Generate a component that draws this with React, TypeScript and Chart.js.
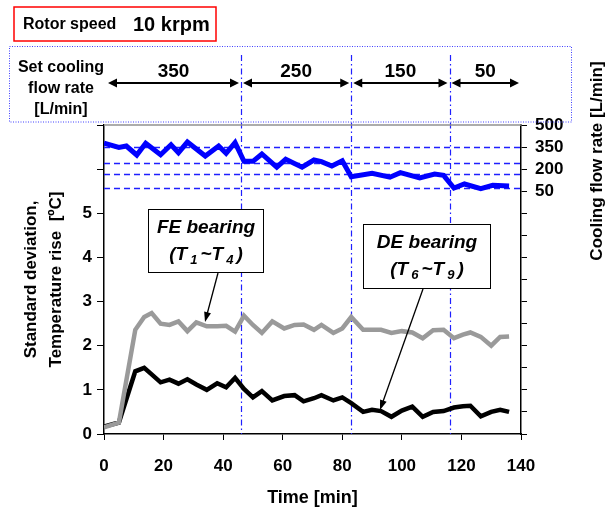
import React, { useEffect, useRef } from 'react';
import { Chart, registerables } from 'chart.js';

Chart.register(...registerables);

const FONT = '"Liberation Sans", Arial, Helvetica, sans-serif';

// Time axis [min] for the two bearing series
const timeMin = [0, 5, 10.5, 13.5, 16, 19, 22, 25, 28, 31, 34.5, 38, 41, 44, 47, 50, 53, 56.5, 60.5, 64, 67, 70.5, 73, 77, 80, 83, 87, 90, 93, 96.5, 100, 103.5, 107, 110.5, 114, 117.5, 120.5, 123, 126.5, 130, 133, 136];
// FE bearing (T1~T4) standard deviation [ºC]
const feBearing = [0.15, 0.26, 2.36, 2.65, 2.74, 2.5, 2.47, 2.55, 2.33, 2.53, 2.44, 2.44, 2.45, 2.32, 2.68, 2.47, 2.29, 2.55, 2.39, 2.47, 2.48, 2.36, 2.47, 2.29, 2.39, 2.65, 2.36, 2.36, 2.36, 2.29, 2.33, 2.3, 2.17, 2.35, 2.36, 2.17, 2.25, 2.3, 2.2, 2.0, 2.2, 2.21];
// DE bearing (T6~T9) standard deviation [ºC]
const deBearing = [0.17, 0.26, 1.42, 1.5, 1.35, 1.17, 1.23, 1.14, 1.24, 1.12, 1.0, 1.15, 1.06, 1.27, 1.02, 0.83, 0.97, 0.76, 0.86, 0.88, 0.74, 0.81, 0.88, 0.76, 0.83, 0.7, 0.5, 0.55, 0.52, 0.39, 0.53, 0.62, 0.39, 0.5, 0.52, 0.6, 0.63, 0.64, 0.4, 0.5, 0.55, 0.5];

// Measured cooling flow rate [L/min]
const flowTime = [0, 5, 7.5, 11, 14, 19, 22.5, 25, 28, 34, 38.5, 41, 44, 47, 50, 53, 58, 61, 66.5, 70.5, 73, 76.5, 80, 83, 90, 96, 99.5, 106, 111, 114, 117.5, 121, 126.5, 130.5, 136];
const flowRate = [376, 348, 357, 296, 376, 298, 366, 312, 384, 289, 357, 308, 380, 253, 253, 303, 213, 267, 213, 262, 251, 221, 257, 149, 172, 145, 176, 140, 167, 158, 72, 99, 67, 90, 85];

// Reference flow levels (dashed lines) [L/min]
const flowLevels = [350, 245, 165, 70];
// Times where the set flow rate changes [min]
const changeTimes = [46, 83, 116];
const segmentBounds = [0, 46, 83, 116, 140];
const setFlowLabels = ['350', '250', '150', '50'];

const rightTickLabels = [50, 200, 350, 500];
const leftMaxLabel = 5;

function arrowHead(ctx: CanvasRenderingContext2D, x: number, y: number, angle: number, len: number, half: number) {
  ctx.save();
  ctx.translate(x, y);
  ctx.rotate(angle);
  ctx.beginPath();
  ctx.moveTo(0, 0);
  ctx.lineTo(-len, -half);
  ctx.lineTo(-len, half);
  ctx.closePath();
  ctx.fill();
  ctx.restore();
}

function drawSubText(ctx: CanvasRenderingContext2D, parts: { t: string; sub: boolean }[], cx: number, cy: number, size: number, subSize: number) {
  const mainF = `italic bold ${size}px ${FONT}`;
  const subF = `italic bold ${subSize}px ${FONT}`;
  const gap = 3;
  let total = 0;
  const widths = parts.map((p) => {
    ctx.font = p.sub ? subF : mainF;
    const w = ctx.measureText(p.t).width;
    total += w;
    return w;
  });
  total += gap * (parts.length - 1);
  let x = cx - total / 2;
  ctx.textAlign = 'left';
  ctx.textBaseline = 'middle';
  parts.forEach((p, i) => {
    ctx.font = p.sub ? subF : mainF;
    ctx.fillText(p.t, x, p.sub ? cy + 5 : cy);
    x += widths[i] + gap;
  });
}

const overlayPlugin = {
  id: 'overlay',
  beforeDatasetsDraw(chart: any) {
    const { ctx, chartArea, scales } = chart;
    const { left, right, top, bottom } = chartArea;
    ctx.save();
    // horizontal dashed flow levels
    ctx.strokeStyle = '#1f1fff';
    ctx.lineWidth = 1.3;
    ctx.setLineDash([6, 4]);
    flowLevels.forEach((v) => {
      const y = Math.round(scales.y2.getPixelForValue(v)) + 0.5;
      ctx.beginPath();
      ctx.moveTo(left, y);
      ctx.lineTo(right, y);
      ctx.stroke();
    });
    // vertical dash-dot change lines
    ctx.strokeStyle = '#1f1fff';
    ctx.lineWidth = 1.2;
    ctx.setLineDash([6, 3, 1.5, 3]);
    changeTimes.forEach((t) => {
      const x = Math.round(scales.x.getPixelForValue(t)) + 0.5;
      ctx.beginPath();
      ctx.moveTo(x, 55);
      ctx.lineTo(x, bottom);
      ctx.stroke();
    });
    ctx.setLineDash([]);
    // top border (grey)
    ctx.strokeStyle = '#909090';
    ctx.lineWidth = 1.5;
    ctx.beginPath();
    ctx.moveTo(left, top);
    ctx.lineTo(right, top);
    ctx.stroke();
    ctx.restore();
  },
  afterDraw(chart: any) {
    const { ctx, chartArea, scales } = chart;
    const { left, right, top, bottom } = chartArea;
    ctx.save();
    ctx.fillStyle = '#000';

    // Rotor speed box
    ctx.strokeStyle = '#ff0000';
    ctx.lineWidth = 1.5;
    ctx.strokeRect(14, 7, 202, 34);
    ctx.textBaseline = 'middle';
    ctx.textAlign = 'left';
    ctx.font = `bold 16px ${FONT}`;
    ctx.fillText('Rotor speed', 23, 25);
    ctx.font = `bold 20px ${FONT}`;
    ctx.fillText('10 krpm', 133, 25);

    // dotted set-flow box
    ctx.strokeStyle = '#4040ff';
    ctx.lineWidth = 1;
    ctx.setLineDash([1, 1.5]);
    ctx.strokeRect(9.5, 46.5, 562, 75.5);
    ctx.setLineDash([]);

    ctx.textAlign = 'center';
    ctx.font = `bold 16px ${FONT}`;
    ctx.fillText('Set cooling', 61, 68);
    ctx.fillText('flow rate', 61, 89);
    ctx.fillText('[L/min]', 61, 110);

    // segment arrows
    ctx.strokeStyle = '#000';
    ctx.lineWidth = 2;
    for (let i = 0; i < setFlowLabels.length; i++) {
      const x1 = scales.x.getPixelForValue(segmentBounds[i]) + (i === 0 ? 4 : 2);
      const x2 = scales.x.getPixelForValue(segmentBounds[i + 1]) - 2;
      const y = 83;
      ctx.beginPath();
      ctx.moveTo(x1 + 6, y);
      ctx.lineTo(x2 - 6, y);
      ctx.stroke();
      arrowHead(ctx, x1, y, Math.PI, 9, 4.5);
      arrowHead(ctx, x2, y, 0, 9, 4.5);
      ctx.font = `bold 19px ${FONT}`;
      ctx.textAlign = 'center';
      ctx.fillText(setFlowLabels[i], (x1 + x2) / 2, 72);
    }

    // axis titles
    ctx.font = `bold 17px ${FONT}`;
    ctx.textAlign = 'center';
    ctx.textBaseline = 'middle';
    ctx.save();
    ctx.translate(31, (top + bottom) / 2);
    ctx.rotate(-Math.PI / 2);
    ctx.fillText('Standard deviation,', 0, 0);
    ctx.restore();
    ctx.save();
    ctx.translate(56, (top + bottom) / 2);
    ctx.rotate(-Math.PI / 2);
    ctx.fillText('Temperature rise  [ºC]', 0, 0);
    ctx.restore();

    ctx.save();
    ctx.font = `bold 17px ${FONT}`;
    ctx.translate(597, 161);
    ctx.rotate(-Math.PI / 2);
    ctx.fillText('Cooling flow rate [L/min]', 0, 0);
    ctx.restore();

    ctx.font = `bold 18px ${FONT}`;
    ctx.fillText('Time [min]', (left + right) / 2, 498);

    // annotation boxes
    ctx.fillStyle = '#fff';
    ctx.strokeStyle = '#000';
    ctx.lineWidth = 1;
    ctx.fillRect(148.5, 209.5, 115, 63);
    ctx.strokeRect(148.5, 209.5, 115, 63);
    ctx.fillRect(363.5, 224.5, 127, 64);
    ctx.strokeRect(363.5, 224.5, 127, 64);
    ctx.fillStyle = '#000';
    ctx.font = `italic bold 19px ${FONT}`;
    ctx.textAlign = 'center';
    ctx.fillText('FE bearing', 206, 228);
    drawSubText(ctx, [
      { t: '(T', sub: false }, { t: '1', sub: true }, { t: '~T', sub: false }, { t: '4', sub: true }, { t: ')', sub: false },
    ], 206, 255, 19, 13);
    ctx.font = `italic bold 19px ${FONT}`;
    ctx.textAlign = 'center';
    ctx.fillText('DE bearing', 427, 243);
    drawSubText(ctx, [
      { t: '(T', sub: false }, { t: '6', sub: true }, { t: '~T', sub: false }, { t: '9', sub: true }, { t: ')', sub: false },
    ], 427, 270, 19, 13);

    // annotation arrows
    ctx.lineWidth = 1.3;
    const arrows = [
      [218, 273, 205, 322],
      [423, 289, 380, 410],
    ];
    arrows.forEach(([x1, y1, x2, y2]) => {
      const ang = Math.atan2(y2 - y1, x2 - x1);
      ctx.beginPath();
      ctx.moveTo(x1, y1);
      ctx.lineTo(x2 - 8 * Math.cos(ang), y2 - 8 * Math.sin(ang));
      ctx.stroke();
      arrowHead(ctx, x2, y2, ang, 10, 3.5);
    });
    ctx.restore();
  },
};

export default function App() {
  const ref = useRef<HTMLCanvasElement | null>(null);
  useEffect(() => {
    document.body.style.margin = '0';
    const canvas = ref.current;
    if (!canvas) return;
    const pts = (xs: number[], ys: number[]) => xs.map((x, i) => ({ x, y: ys[i] }));
    const chart = new Chart(canvas, {
      type: 'line',
      data: {
        datasets: [
          {
            label: 'FE bearing (T1~T4)',
            data: pts(timeMin, feBearing),
            borderColor: '#9a9a9a',
            borderWidth: 4.5,
            pointRadius: 0,
            tension: 0,
            yAxisID: 'y',
          },
          {
            label: 'DE bearing (T6~T9)',
            data: pts(timeMin, deBearing),
            borderColor: '#000000',
            borderWidth: 4.5,
            pointRadius: 0,
            tension: 0,
            yAxisID: 'y',
          },
          {
            label: 'Cooling flow rate',
            data: pts(flowTime, flowRate),
            borderColor: '#0000ff',
            borderWidth: 5,
            pointRadius: 0,
            tension: 0,
            yAxisID: 'y2',
          },
        ],
      },
      options: {
        animation: false,
        responsive: true,
        maintainAspectRatio: false,
        layout: { padding: { top: 125, left: 0, right: 0, bottom: 0 } },
        plugins: { legend: { display: false }, tooltip: { enabled: false } },
        scales: {
          x: {
            type: 'linear',
            min: 0,
            max: 140,
            afterFit: (s: any) => { s.height = 78; },
            ticks: { stepSize: 20, autoSkip: false, color: '#000', font: { family: FONT, size: 17, weight: 'bold' }, padding: 16 },
            grid: { drawOnChartArea: false, drawTicks: true, tickLength: 6, color: '#000' },
            border: { display: true, color: '#000', width: 1.5 },
          },
          y: {
            type: 'linear',
            position: 'left',
            min: 0,
            max: 7,
            afterFit: (s: any) => { s.width = 104; },
            ticks: {
              stepSize: 1,
              autoSkip: false,
              color: '#000',
              font: { family: FONT, size: 17, weight: 'bold' },
              padding: 5,
              callback: (v: any) => (Number(v) <= leftMaxLabel ? String(v) : ''),
            },
            grid: { drawOnChartArea: false, drawTicks: true, tickLength: 7, color: '#000' },
            border: { display: true, color: '#000', width: 1.5 },
          },
          y2: {
            type: 'linear',
            position: 'right',
            min: -1600,
            max: 500,
            afterFit: (s: any) => { s.width = 88; },
            ticks: {
              stepSize: 150,
              autoSkip: false,
              color: '#000',
              font: { family: FONT, size: 17, weight: 'bold' },
              padding: 8,
              callback: (v: any) => (rightTickLabels.includes(Number(v)) ? String(v) : ''),
            },
            grid: { drawOnChartArea: false, drawTicks: true, tickLength: 6, color: '#000' },
            border: { display: true, color: '#000', width: 1.5 },
          },
        },
      },
      plugins: [overlayPlugin],
    });
    return () => chart.destroy();
  }, []);
  return (
    <div style={{ position: 'fixed', left: 0, top: 0, width: 609, height: 512, background: '#fff' }}>
      <canvas ref={ref} />
    </div>
  );
}
